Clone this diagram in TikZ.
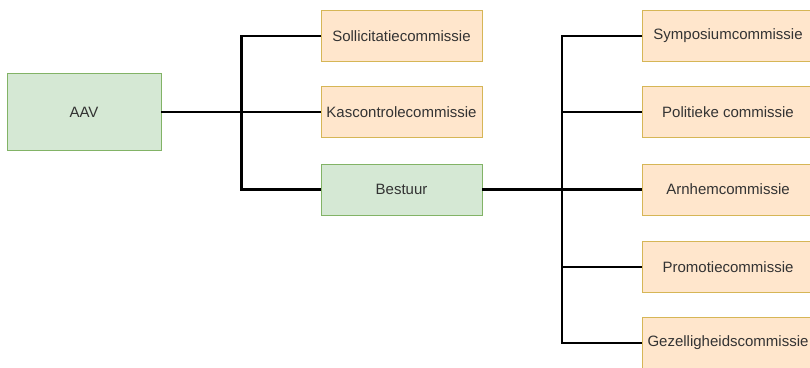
\documentclass[tikz,border=0pt]{standalone}
\usepackage{fontspec}
\setmainfont{Liberation Sans}
\usepackage{tikz}
\usetikzlibrary{calc}

\definecolor{grfill}{HTML}{D5E8D4}
\definecolor{grline}{HTML}{82B366}
\definecolor{orfill}{HTML}{FFE6CC}
\definecolor{orline}{HTML}{D6B656}
\definecolor{txt}{HTML}{333333}

\tikzset{
  orgbox/.style={draw, line width=0.9pt, inner sep=0pt, outer sep=0pt,
    text=txt, font=\fontsize{15}{17}\selectfont},
  bestuurbox/.style={orgbox, fill=grfill, draw=grline},
  commbox/.style={orgbox, fill=orfill, draw=orline, minimum height=51},
  tak/.style={line width=2.6pt, black}
}

\begin{document}
\begin{tikzpicture}[x=1pt, y=-1pt]
      \useasboundingbox (0,0) rectangle (810,367);

      \node[bestuurbox, minimum width=154, minimum height=77] (aav) at (84,112) {AAV};
      \node[commbox, minimum width=161] (soll) at (401.5,36) {Sollicitatiecommissie};
      \node[commbox, minimum width=161] (kas) at (401.5,112) {Kascontrolecommissie};
      \node[bestuurbox, minimum width=161, minimum height=51] (best) at (401.5,189.5) {Bestuur};

      \node[commbox, minimum width=172] (symp) at (728,36) {Symposiumcommissie};
      \node[commbox, minimum width=172] (pol) at (728,112) {Politieke commissie};
      \node[commbox, minimum width=172] (arn) at (728,189.5) {Arnhemcommissie};
      \node[commbox, minimum width=172] (prom) at (728,267) {Promotiecommissie};
      \node[commbox, minimum width=172] (gez) at (728,343) {Gezelligheidscommissie};

      \coordinate (lt) at (241.5,36);
      \coordinate (rt) at (562,36);

      \draw[tak] (aav.east) -- (kas.west);
      \draw[tak] (soll.west) -- (lt) |- (best.west);

      \draw[tak] (best.east) -- (arn.west);
      \draw[tak] (symp.west) -- (rt) |- (gez.west);
      \draw[tak] (rt |- pol.west) -- (pol.west);
      \draw[tak] (rt |- prom.west) -- (prom.west);
\end{tikzpicture}
\end{document}
